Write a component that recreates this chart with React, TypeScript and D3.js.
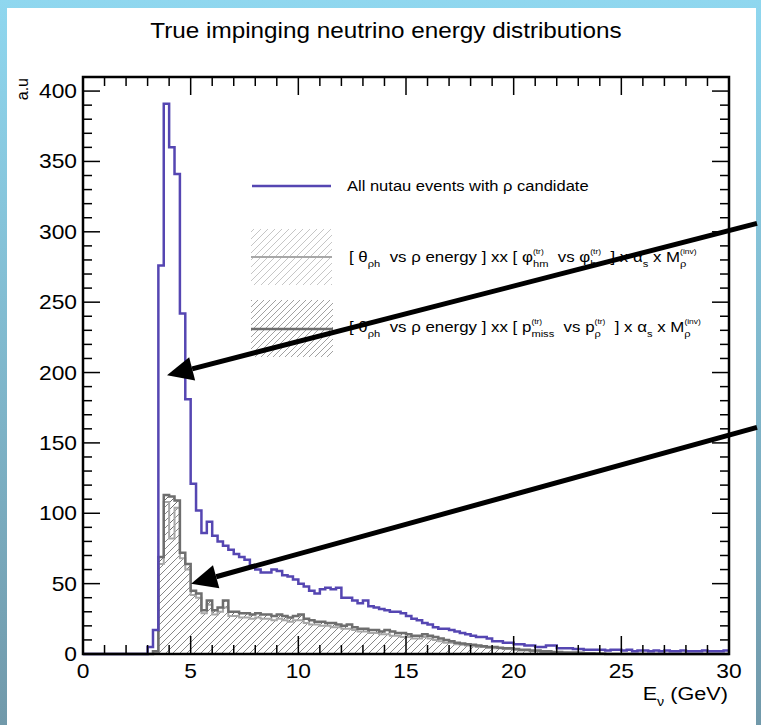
import React from 'react';
import * as d3 from 'd3';

const W = 761;
const H = 725;
const BIN_WIDTH = 0.25; // GeV, 120 bins from 0 to 30

// All nutau events with rho candidate (blue)
const allNutau = [
  0, 0, 0, 0, 0, 0, 0, 0, 0, 0, 0, 0,
  5, 17, 276, 391, 360, 341, 242, 181,
  121, 102, 86, 94, 84, 80, 77, 74, 71, 69, 67, 63,
  60, 58, 58, 60, 59, 56, 55, 53, 50, 48, 45, 43,
  46, 47, 46, 47, 40, 40, 38, 36, 38, 34, 33, 32,
  31, 30, 30, 29, 27, 25, 24, 22, 21, 19, 18, 18,
  17, 16, 15, 14, 13, 12, 12, 11, 9, 9, 8, 8,
  7, 7, 6, 6, 5, 5, 6, 6, 4, 4, 4, 3.5,
  3.5, 3, 3, 3, 3, 2.5, 3, 3, 2.5, 3, 2, 2.5,
  2.5, 2, 2.5, 2, 2.5, 2, 2, 2.5, 2, 2, 2, 2.5,
  2, 2, 2, 2.5,
];

// [theta vs rho energy] xx [phi vs phi] selection (light grey, hatched)
const phiSelection = [
  0, 0, 0, 0, 0, 0, 0, 0, 0, 0, 0, 0,
  0, 1, 64, 108, 82, 104, 68, 60,
  42, 40, 29, 35, 28, 30, 33, 27, 27, 26, 26, 25,
  26, 25, 25, 24, 25, 24, 23, 24, 24, 22, 21, 21,
  20, 20, 19, 19, 18, 18, 17, 16, 16, 15, 15, 14,
  14, 13, 13, 12, 12, 11, 11, 12, 11, 10, 9, 8,
  8, 7, 6.5, 6, 5.5, 5, 5, 4.5, 4, 4, 3.5, 3.5,
  3, 2.5, 2.5, 2, 2, 1.5, 1.5, 1, 1, 0.8, 0.6, 0.5,
  0.4, 0.3, 0.2, 0, 0, 0, 0, 0, 0, 0, 0, 0,
  0, 0, 0, 0, 0, 0, 0, 0, 0, 0, 0, 0,
  0, 0, 0, 0,
];

// [theta vs rho energy] xx [pmiss vs prho] selection (dark grey, hatched)
const pmissSelection = [
  0, 0, 0, 0, 0, 0, 0, 0, 0, 0, 0, 0,
  0, 2, 69, 113, 112, 109, 72, 64,
  45, 43, 31, 38, 31, 33, 38, 30, 30, 29, 29, 28,
  29, 28, 28, 27, 28, 27, 26, 27, 28, 25, 24, 23,
  23, 22, 22, 21, 20, 21, 19, 18, 18, 17, 17, 16,
  17, 16, 15, 15, 14, 13, 13, 14, 13, 12, 11, 10,
  9, 8, 7.5, 7, 6.5, 6, 5.5, 5, 5, 4.5, 4, 4,
  3.5, 3, 3, 2.5, 2.5, 2, 2, 1.5, 1.5, 1, 1, 1,
  0.8, 0.6, 0.5, 0.4, 0.3, 0, 0, 0, 0, 0, 0, 0,
  0, 0, 0, 0, 0, 0, 0, 0, 0, 0, 0, 0,
  0, 0, 0, 0,
];

const xMajorTicks = [0, 5, 10, 15, 20, 25, 30];
const yMajorTicks = [0, 50, 100, 150, 200, 250, 300, 350, 400];

// annotation arrows in data units: tip and tail
const arrowTips = [[3.9, 198], [5.02, 50]];
const arrowTails = [[31.3, 306], [31.3, 161]];

const FONT = "'Liberation Sans', Arial, Helvetica, sans-serif";
const SX = 1.14;

let measureCtx: CanvasRenderingContext2D | null = null;
function textWidth(t: string, size: number): number {
  if (!measureCtx) {
    const c = document.createElement('canvas');
    measureCtx = c.getContext('2d');
  }
  if (!measureCtx) return t.length * size * 0.5;
  measureCtx.font = `${size}px 'Liberation Sans', Arial, sans-serif`;
  return measureCtx.measureText(t).width;
}

// Segment: plain text, or a stacked pair of sub/sup scripts
type Seg = { t?: string; sub?: string; sup?: string };

function Latex({ x, y, segs, size, anchor = 'start' }: { x: number; y: number; segs: Seg[]; size: number; anchor?: string }) {
  const subSize = size * 0.66;
  const supSize = size * 0.5;
  const subShift = size * 0.33;
  const supShift = -size * 0.55;
  const out: React.ReactNode[] = [];
  let cur = 0;
  let pendingDx = 0;
  segs.forEach((s, i) => {
    if (s.t !== undefined) {
      out.push(<tspan key={i} dx={pendingDx} dy={-cur} fontSize={size} style={{ whiteSpace: 'pre' }}>{s.t}</tspan>);
      cur = 0;
      pendingDx = 0;
    } else {
      const subW = s.sub ? textWidth(s.sub, subSize) : 0;
      const supW = s.sup ? textWidth(s.sup, supSize) : 0;
      let started = false;
      if (s.sub) {
        out.push(<tspan key={i + 'b'} dx={pendingDx} dy={subShift - cur} fontSize={subSize}>{s.sub}</tspan>);
        cur = subShift;
        pendingDx = 0;
        started = true;
      }
      if (s.sup) {
        out.push(<tspan key={i + 'p'} dx={(started ? -subW : 0) + pendingDx} dy={supShift - cur} fontSize={supSize}>{s.sup}</tspan>);
        cur = supShift;
        pendingDx = Math.max(subW, supW) - supW;
      } else {
        pendingDx = 0;
      }
    }
  });
  return (
    <g transform={`translate(${x},${y}) scale(${SX},1)`}>
      <text x={0} y={0} fontFamily={FONT} fontSize={size} textAnchor={anchor} fill="#000" style={{ whiteSpace: 'pre' }}>
        {out}
      </text>
    </g>
  );
}

function histPoints(vals: number[]): [number, number][] {
  const pts: [number, number][] = [];
  vals.forEach((v, i) => {
    const x0 = i * BIN_WIDTH;
    pts.push([x0, v], [x0 + BIN_WIDTH, v]);
  });
  return pts;
}

export default function App() {
  const left = 83, right = 729, top = 77, bottom = 654;
  const x = d3.scaleLinear().domain([0, 30]).range([left, right]);
  const y = d3.scaleLinear().domain([0, 410]).range([bottom, top]);

  const line = d3.line<[number, number]>().x(d => x(d[0])).y(d => y(d[1]));
  const area = d3.area<[number, number]>().x(d => x(d[0])).y0(y(0)).y1(d => y(d[1]));

  const blueP = histPoints(allNutau);
  const phiP = histPoints(phiSelection);
  const pmP = histPoints(pmissSelection);

  const xMinor = d3.range(0, 30.001, 1);
  const yMinor = d3.range(0, 410, 10);

  const blue = '#5546b2';
  const darkGrey = '#6e6e6e';
  const lightGrey = '#a8a8a8';

  return (
    <svg width={W} height={H} style={{ position: 'absolute', left: 0, top: 0, display: 'block' }}>
      <defs>
        <linearGradient id="bg" x1="0" y1="0" x2="0" y2="1">
          <stop offset="0" stopColor="#8fd7ef" />
          <stop offset="1" stopColor="#7199aa" />
        </linearGradient>
        <pattern id="hatchDark" patternUnits="userSpaceOnUse" width="7" height="7">
          <path d="M-1,1 l2,-2 M0,7 l7,-7 M6,8 l2,-2" stroke="#6c6c6c" strokeWidth="1" />
        </pattern>
        <pattern id="hatchLight" patternUnits="userSpaceOnUse" width="7" height="7">
          <path d="M-1,1 l2,-2 M0,7 l7,-7 M6,8 l2,-2" stroke="#8a8a8a" strokeWidth="0.9" />
        </pattern>
        <pattern id="hatchLegLight" patternUnits="userSpaceOnUse" width="7" height="7">
          <path d="M-1,1 l2,-2 M0,7 l7,-7 M6,8 l2,-2" stroke="#c0c0c0" strokeWidth="0.9" />
        </pattern>
        <pattern id="hatchLegDark" patternUnits="userSpaceOnUse" width="6" height="6">
          <path d="M-1,1 l2,-2 M0,6 l6,-6 M5,7 l2,-2" stroke="#969696" strokeWidth="0.9" />
        </pattern>
      </defs>
      <rect x={0} y={0} width={W} height={H} fill="url(#bg)" />
      <rect x={7} y={8} width={749} height={H - 8} fill="#ffffff" />

      {/* Title */}
      <Latex x={386} y={38} size={21.3} anchor="middle" segs={[{ t: 'True impinging neutrino energy distributions' }]} />

      {/* Hatched histograms */}
      <path d={area(pmP) ?? ''} fill="url(#hatchDark)" />
      <path d={area(phiP) ?? ''} fill="url(#hatchLight)" />
      <path d={line(phiP) ?? ''} fill="none" stroke={lightGrey} strokeWidth={2} />
      <path d={line(pmP) ?? ''} fill="none" stroke={darkGrey} strokeWidth={2.5} />
      <path d={line(blueP) ?? ''} fill="none" stroke={blue} strokeWidth={2.5} />

      {/* Frame */}
      <rect x={left} y={top} width={right - left} height={bottom - top} fill="none" stroke="#000" strokeWidth={2.5} />
      {xMinor.map(v => {
        const major = xMajorTicks.includes(v);
        const len = major ? 18 : 9;
        return (
          <g key={'xt' + v} stroke="#000" strokeWidth={1.5}>
            <line x1={x(v)} x2={x(v)} y1={bottom} y2={bottom - len} />
            <line x1={x(v)} x2={x(v)} y1={top} y2={top + len} />
          </g>
        );
      })}
      {yMinor.map(v => {
        const major = yMajorTicks.includes(v);
        const len = major ? 17 : 9;
        return (
          <g key={'yt' + v} stroke="#000" strokeWidth={1.5}>
            <line x1={left} x2={left + len} y1={y(v)} y2={y(v)} />
            <line x1={right} x2={right - len} y1={y(v)} y2={y(v)} />
          </g>
        );
      })}

      {/* Tick labels */}
      {xMajorTicks.map(v => (
        <Latex key={'xl' + v} x={x(v)} y={678} size={20} anchor="middle" segs={[{ t: String(v) }]} />
      ))}
      {yMajorTicks.map(v => (
        <Latex key={'yl' + v} x={77} y={y(v) + 7} size={20} anchor="end" segs={[{ t: String(v) }]} />
      ))}

      {/* Axis titles */}
      <Latex x={728} y={700} size={19} anchor="end" segs={[{ t: 'E' }, { sub: 'ν' }, { t: ' (GeV)' }]} />
      <g transform="translate(28,78) rotate(-90)">
        <text x={0} y={0} fontFamily={FONT} fontSize={16} textAnchor="end">a.u</text>
      </g>

      {/* Legend */}
      <line x1={252} x2={331} y1={186} y2={186} stroke={blue} strokeWidth={2.5} />
      <Latex x={347} y={191} size={14.5} segs={[{ t: 'All nutau events with ρ candidate' }]} />

      <rect x={251} y={229} width={81} height={56} fill="url(#hatchLegLight)" />
      <line x1={251} x2={332} y1={257} y2={257} stroke={lightGrey} strokeWidth={2} />
      <Latex x={349} y={262} size={14.8} segs={[
        { t: '[ θ' }, { sub: 'ρh' }, { t: '  vs ρ energy ] xx [ φ' }, { sub: 'hm', sup: '(tr)' },
        { t: '  vs φ' }, { sub: 'h', sup: '(tr)' }, { t: '  ] x α' }, { sub: 's' }, { t: ' x M' },
        { sub: 'ρ', sup: '(inv)' },
      ]} />

      <rect x={251} y={300} width={82} height={57} fill="url(#hatchLegDark)" />
      <line x1={251} x2={333} y1={329} y2={329} stroke={darkGrey} strokeWidth={2.5} />
      <Latex x={349} y={332} size={14.8} segs={[
        { t: '[ θ' }, { sub: 'ρh' }, { t: '  vs ρ energy ] xx [ p' }, { sub: 'miss', sup: '(tr)' },
        { t: '  vs p' }, { sub: 'ρ', sup: '(tr)' }, { t: '  ] x α' }, { sub: 's' }, { t: ' x M' },
        { sub: 'ρ', sup: '(inv)' },
      ]} />

      {/* Arrows */}
      {arrowTips.map((tip, i) => {
        const tail = arrowTails[i];
        const tx = x(tip[0]), ty = y(tip[1]);
        const sx = x(tail[0]), sy = y(tail[1]);
        const ang = Math.atan2(ty - sy, tx - sx);
        const L = 26, hw = 12;
        const bx = tx - L * Math.cos(ang), by = ty - L * Math.sin(ang);
        const px = -Math.sin(ang), py = Math.cos(ang);
        const head = `M${tx},${ty} L${bx + hw * px},${by + hw * py} L${bx - hw * px},${by - hw * py} Z`;
        return (
          <g key={'ar' + i}>
            <line x1={Math.min(sx, 757)} y1={sy} x2={bx} y2={by} stroke="#000" strokeWidth={5} />
            <path d={head} fill="#000" />
          </g>
        );
      })}
    </svg>
  );
}
